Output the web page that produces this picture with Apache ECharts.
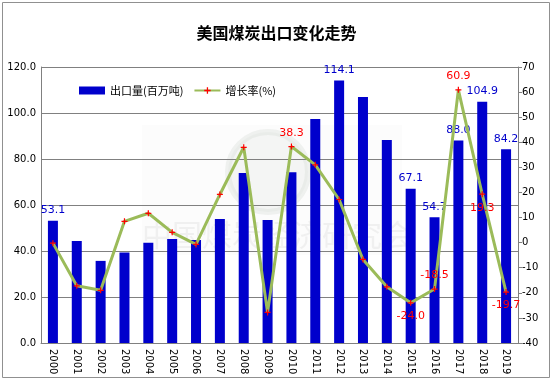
<!DOCTYPE html>
<html><head><meta charset="utf-8">
<script src="https://cdn.jsdelivr.net/npm/echarts@6/dist/echarts.min.js"></script>
<style>html,body{margin:0;padding:0;background:#fff}#c{width:553px;height:381px}</style>
</head><body><div id="c"></div>
<script>
const years = ['2000','2001','2002','2003','2004','2005','2006','2007','2008','2009','2010','2011','2012','2013','2014','2015','2016','2017','2018','2019'];
const exports = [53.1,44.3,35.7,39.3,43.6,45.2,44.8,53.9,73.9,53.5,74.2,97.4,114.1,107.0,88.3,67.1,54.7,88.0,104.9,84.2];
const growth = [-0.2,-17.2,-19.0,8.5,11.7,4.1,-0.7,19.2,38.0,-27.8,38.3,31.0,17.2,-6.7,-17.6,-24.0,-18.5,60.9,19.3,-19.7];
const barLabelYears = ['2000','2012','2015','2016','2017','2018','2019'];
const lineLabelAbove = ['2010','2016','2017'];
const lineLabelBelow = ['2015','2018','2019'];
const leftTicks = [0,20,40,60,80,100,120];
const rightTicks = [-40,-30,-20,-10,0,10,20,30,40,50,60,70];

const numFont = 'DejaVu Sans';
const cjk = '"Noto Sans CJK SC"';
const chart = echarts.init(document.getElementById('c'), null, {renderer:'canvas'});
const plus = 'path://M4,0H6V4H10V6H6V10H4V6H0V4H4Z';

chart.setOption({
  animation:false,
  backgroundColor:'#fff',
  title:{text:'美国煤炭出口变化走势', left:'center', top:20,
    textStyle:{fontFamily:cjk, fontSize:16, fontWeight:'bold', color:'#000'}},
  legend:{top:80, left:74, itemGap:10, itemWidth:26, itemHeight:8,
    textStyle:{fontFamily:cjk, fontSize:11, color:'#000'},
    data:[{name:'出口量(百万吨)', icon:'rect'},{name:'增长率(%)'}]},
  grid:{left:41, right:35, top:67, bottom:38},
  graphic:[
    {type:'rect', shape:{x:2.5,y:2.5,width:547,height:375}, style:{fill:'none', stroke:'#909090', lineWidth:1}, z:-10},
    {type:'rect', shape:{x:142,y:125,width:260,height:130}, style:{fill:'rgba(230,230,230,0.12)'}, z:-6},
    {type:'circle', shape:{cx:268, cy:172, r:40}, style:{fill:'rgba(210,215,210,0.18)', stroke:'rgba(210,215,210,0.3)', lineWidth:6}, z:-5},
    {type:'text', left:142, top:220, style:{text:'中国煤炭经济研究会', font:'30px "Noto Sans CJK SC"', fill:'rgba(200,200,200,0.22)'}, z:-5}
  ],
  xAxis:{type:'category', data:years,
    axisLine:{lineStyle:{color:'#808080'}}, axisTick:{show:false},
    axisLabel:{rotate:-90, fontFamily:numFont, fontSize:10, color:'#000', margin:6, interval:0}},
  yAxis:[
    {type:'value', min:leftTicks[0], max:leftTicks[leftTicks.length-1], interval:20,
     axisLine:{show:true, lineStyle:{color:'#808080'}}, axisTick:{show:false},
     splitLine:{lineStyle:{color:'#808080', width:1}},
     axisLabel:{formatter:v=>v.toFixed(1), fontFamily:numFont, fontSize:10, color:'#000', margin:5}},
    {type:'value', min:rightTicks[0], max:rightTicks[rightTicks.length-1], interval:10, position:'right',
     axisLine:{show:true, lineStyle:{color:'#808080'}},
     axisTick:{show:true, length:4, lineStyle:{color:'#808080'}},
     splitLine:{show:false},
     axisLabel:{fontFamily:numFont, fontSize:10, color:'#000', margin:4}}
  ],
  series:[
    {name:'出口量(百万吨)', type:'bar', yAxisIndex:0, barWidth:10,
     itemStyle:{color:'#0000CC'},
     data:exports.map((v,i)=>({value:v, label:{show:barLabelYears.includes(years[i])}})),
     label:{position:'top', distance:5, color:'#0000CC', fontFamily:numFont, fontSize:11, formatter:p=>p.value.toFixed(1)}},
    {name:'增长率(%)', type:'line', yAxisIndex:1, symbol:plus, symbolSize:6, showAllSymbol:true,
     lineStyle:{color:'#9BBB59', width:3}, itemStyle:{color:'#FF0000'},
     data:growth.map((v,i)=>({value:v,
       label:{show:lineLabelAbove.includes(years[i])||lineLabelBelow.includes(years[i]),
              position:lineLabelBelow.includes(years[i])?'bottom':'top'}})),
     label:{distance:5, color:'#FF0000', fontFamily:numFont, fontSize:11, formatter:p=>p.value.toFixed(1)},
     z:3}
  ]
});
</script></body></html>
